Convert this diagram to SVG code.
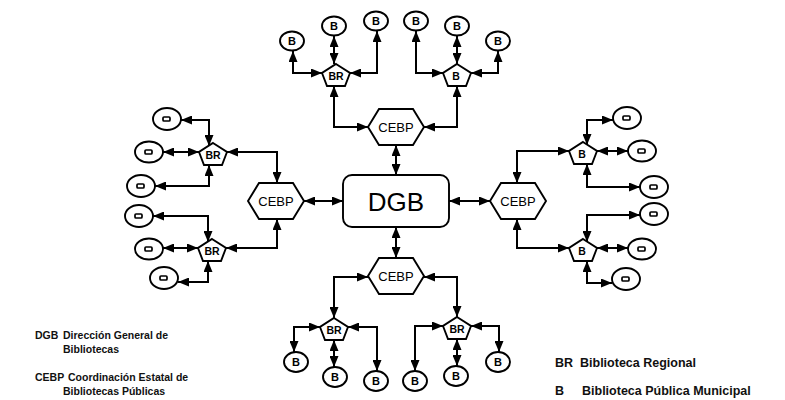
<svg xmlns="http://www.w3.org/2000/svg" width="785" height="400" viewBox="0 0 785 400">
<defs>
<marker id="ah" markerUnits="userSpaceOnUse" markerWidth="11" markerHeight="9" refX="11" refY="4.5" orient="auto-start-reverse" viewBox="0 0 11 9">
<path d="M0,0 L11,4.5 L0,9 z" fill="#000"/>
</marker>
<path id="pent" d="M0,-11 L14,-2 L9,11 L-9,11 L-14,-2 Z"/>
<path id="hex" d="M-28,0 L-17,-18 L17,-18 L28,0 L17,18 L-17,18 Z"/>
</defs>
<style>
.shape{fill:#fff;stroke:#000;stroke-width:1.9}
.conn path{fill:none;stroke:#000;stroke-width:2;marker-start:url(#ah);marker-end:url(#ah)}
.lbl{font-family:"Liberation Sans",Arial,sans-serif;fill:#000;text-anchor:middle}
.b{font-size:11px;font-weight:bold}
.br{font-size:10.5px;font-weight:bold}
.cebp{font-size:13px}
.leg{font-family:"Liberation Sans",Arial,sans-serif;fill:#111;font-size:10.5px;font-weight:bold}
.legr{font-family:"Liberation Sans",Arial,sans-serif;fill:#111;font-size:12.5px;font-weight:bold}
.sq{fill:#fff;stroke:#000;stroke-width:1.7}
</style>
<rect width="785" height="400" fill="#fff"/>

<g id="connectors" class="conn">
<path d="M396,145 V175"/>
<path d="M304,201 H343"/>
<path d="M449,201 H490"/>
<path d="M396,227 V258"/>
<path d="M368,127 H334 V86"/>
<path d="M424,127 H457 V86"/>
<path d="M322,73 H293 V51"/>
<path d="M334,36 V64"/>
<path d="M350,73 H377 V31"/>
<path d="M443,73 H416 V31"/>
<path d="M457,36 V64"/>
<path d="M471,73 H498 V51"/>
<path d="M277,183 V152 H227"/>
<path d="M277,219 V248 H226"/>
<path d="M181,120 H209 V146"/>
<path d="M163,152 H199"/>
<path d="M155,186 H209 V165"/>
<path d="M153,216 H208 V242"/>
<path d="M163,248 H198"/>
<path d="M178,282 H208 V261"/>
<path d="M517,183 V151 H569"/>
<path d="M517,219 V248 H569"/>
<path d="M613,120 H587 V145"/>
<path d="M628,151 H597"/>
<path d="M640,187 H587 V164"/>
<path d="M640,215 H587 V242"/>
<path d="M628,248 H597"/>
<path d="M612,283 H587 V261"/>
<path d="M368,277 H334 V318"/>
<path d="M424,277 H457 V317"/>
<path d="M320,327 H294 V352"/>
<path d="M334,340 V367"/>
<path d="M348,327 H377 V371"/>
<path d="M443,326 H415 V371"/>
<path d="M457,339 V366"/>
<path d="M471,326 H499 V352"/>
</g>

<g id="dgb">
<rect class="shape" x="343" y="175" width="106" height="52" rx="9"/>
<text class="lbl" x="396" y="211" font-size="26">DGB</text>
</g>

<g id="cebp-top"><use href="#hex" class="shape" x="396" y="127"/><text class="lbl cebp" x="396" y="132">CEBP</text></g>
<g id="cebp-left"><use href="#hex" class="shape" x="276" y="201"/><text class="lbl cebp" x="276" y="206">CEBP</text></g>
<g id="cebp-right"><use href="#hex" class="shape" x="518" y="201"/><text class="lbl cebp" x="518" y="206">CEBP</text></g>
<g id="cebp-bottom"><use href="#hex" class="shape" x="396" y="276"/><text class="lbl cebp" x="396" y="281">CEBP</text></g>

<g id="br-top"><use href="#pent" class="shape" x="336" y="75"/><text class="lbl br" x="336" y="80">BR</text></g>
<g id="b-top"><use href="#pent" class="shape" x="457" y="75"/><text class="lbl br" x="456" y="80">B</text></g>
<g id="br-left1"><use href="#pent" class="shape" x="213" y="154"/><text class="lbl br" x="213" y="159">BR</text></g>
<g id="br-left2"><use href="#pent" class="shape" x="212" y="250"/><text class="lbl br" x="212" y="255">BR</text></g>
<g id="b-right1"><use href="#pent" class="shape" x="583" y="153"/><text class="lbl br" x="582" y="158">B</text></g>
<g id="b-right2"><use href="#pent" class="shape" x="583" y="250"/><text class="lbl br" x="582" y="255">B</text></g>
<g id="br-bot1"><use href="#pent" class="shape" x="334" y="329"/><text class="lbl br" x="334" y="334">BR</text></g>
<g id="br-bot2"><use href="#pent" class="shape" x="457" y="328"/><text class="lbl br" x="457" y="333">BR</text></g>

<g id="bt1"><ellipse class="shape" cx="292" cy="41" rx="12" ry="9.5"/><text class="lbl b" x="292" y="45">B</text></g>
<g id="bt2"><ellipse class="shape" cx="334" cy="26" rx="12" ry="9.5"/><text class="lbl b" x="334" y="30">B</text></g>
<g id="bt3"><ellipse class="shape" cx="376" cy="21" rx="12" ry="9.5"/><text class="lbl b" x="376" y="25">B</text></g>
<g id="bt4"><ellipse class="shape" cx="416" cy="21" rx="12" ry="9.5"/><text class="lbl b" x="416" y="25">B</text></g>
<g id="bt5"><ellipse class="shape" cx="457" cy="26" rx="12" ry="9.5"/><text class="lbl b" x="457" y="30">B</text></g>
<g id="bt6"><ellipse class="shape" cx="498" cy="41" rx="12" ry="9.5"/><text class="lbl b" x="498" y="45">B</text></g>

<g id="bb1"><ellipse class="shape" cx="296" cy="362" rx="12" ry="10"/><text class="lbl b" x="296" y="366">B</text></g>
<g id="bb2"><ellipse class="shape" cx="335" cy="377" rx="12" ry="10"/><text class="lbl b" x="335" y="381">B</text></g>
<g id="bb3"><ellipse class="shape" cx="376" cy="381" rx="12" ry="10"/><text class="lbl b" x="376" y="385">B</text></g>
<g id="bb4"><ellipse class="shape" cx="415" cy="381" rx="12" ry="10"/><text class="lbl b" x="415" y="385">B</text></g>
<g id="bb5"><ellipse class="shape" cx="456" cy="376" rx="12" ry="10"/><text class="lbl b" x="456" y="380">B</text></g>
<g id="bb6"><ellipse class="shape" cx="498" cy="362" rx="12" ry="10"/><text class="lbl b" x="498" y="366">B</text></g>

<g id="bl1"><ellipse class="shape" cx="167" cy="119" rx="14" ry="11"/><rect class="sq" x="163" y="117" width="7" height="4" rx="1"/></g>
<g id="bl2"><ellipse class="shape" cx="149" cy="152" rx="14" ry="10.5"/><rect class="sq" x="145" y="150" width="7" height="4" rx="1"/></g>
<g id="bl3"><ellipse class="shape" cx="141" cy="186" rx="14" ry="11"/><rect class="sq" x="137" y="184" width="7" height="4" rx="1"/></g>
<g id="bl4"><ellipse class="shape" cx="139" cy="216" rx="14" ry="11"/><rect class="sq" x="135" y="214" width="7" height="4" rx="1"/></g>
<g id="bl5"><ellipse class="shape" cx="149" cy="249" rx="14" ry="10.5"/><rect class="sq" x="145" y="247" width="7" height="4" rx="1"/></g>
<g id="bl6"><ellipse class="shape" cx="164" cy="278" rx="14" ry="11"/><rect class="sq" x="160" y="276" width="7" height="4" rx="1"/></g>

<g id="br1"><ellipse class="shape" cx="627" cy="118" rx="14" ry="11"/><rect class="sq" x="623" y="116" width="7" height="4" rx="1"/></g>
<g id="br2"><ellipse class="shape" cx="642" cy="151" rx="14" ry="10.5"/><rect class="sq" x="638" y="149" width="7" height="4" rx="1"/></g>
<g id="br3"><ellipse class="shape" cx="654" cy="187" rx="14" ry="11"/><rect class="sq" x="650" y="185" width="7" height="4" rx="1"/></g>
<g id="br4"><ellipse class="shape" cx="654" cy="214" rx="14" ry="11"/><rect class="sq" x="650" y="212" width="7" height="4" rx="1"/></g>
<g id="br5"><ellipse class="shape" cx="642" cy="249" rx="14" ry="10.5"/><rect class="sq" x="638" y="247" width="7" height="4" rx="1"/></g>
<g id="br6"><ellipse class="shape" cx="626" cy="279" rx="14" ry="11"/><rect class="sq" x="622" y="277" width="7" height="4" rx="1"/></g>

<g id="legend-left">
<text class="leg" x="35" y="339">DGB</text>
<text class="leg" x="63" y="339">Dirección General de</text>
<text class="leg" x="63" y="353">Bibliotecas</text>
<text class="leg" x="35" y="381">CEBP</text>
<text class="leg" x="68" y="381">Coordinación Estatal de</text>
<text class="leg" x="63" y="395">Bibliotecas Públicas</text>
</g>
<g id="legend-right">
<text class="legr" x="555" y="367">BR</text>
<text class="legr" x="580" y="367">Biblioteca Regional</text>
<text class="legr" x="555" y="395">B</text>
<text class="legr" x="582" y="395">Biblioteca Pública Municipal</text>
</g>
</svg>
